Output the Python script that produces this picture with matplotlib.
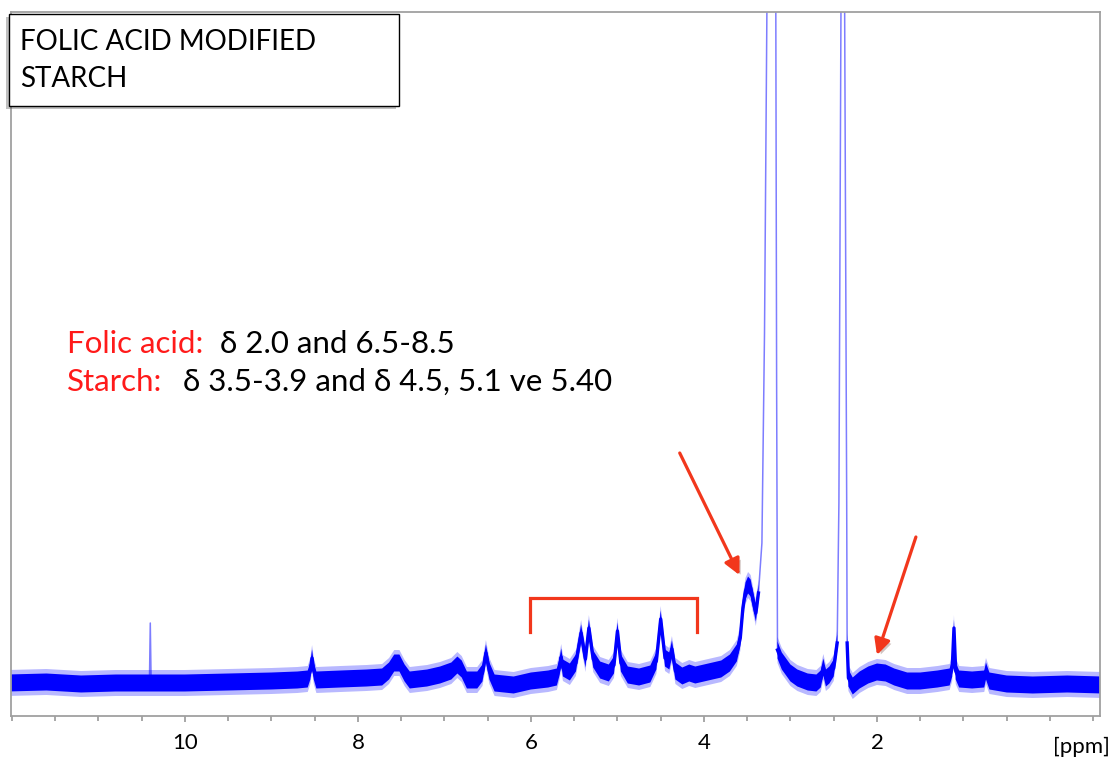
# -*- coding: utf-8 -*-
"""1H NMR spectrum of folic acid modified starch."""

import numpy as np
import matplotlib
matplotlib.use("Agg")
import matplotlib.pyplot as plt
import matplotlib.patheffects as pe
from matplotlib.patches import Rectangle
from matplotlib.ticker import FixedLocator, MultipleLocator

plt.rcParams['font.family'] = ['Lato', 'DejaVu Sans']

# ─── Spectrum trace (ppm, intensity a.u.) ───
ppm = [12.05, 11.60, 11.20, 10.80, 10.45, 10.41, 10.40, 10.39, 10.00, 9.50,
       9.00, 8.70, 8.58, 8.55, 8.53, 8.51, 8.48, 8.20, 7.90, 7.72,
       7.64, 7.58, 7.52, 7.46, 7.40, 7.20, 7.05, 6.92, 6.85, 6.80,
       6.74, 6.62, 6.56, 6.52, 6.48, 6.42, 6.20, 6.00, 5.80, 5.70,
       5.67, 5.65, 5.63, 5.55, 5.48, 5.42, 5.37, 5.33, 5.28, 5.20,
       5.10, 5.04, 5.00, 4.96, 4.88, 4.75, 4.62, 4.55, 4.50, 4.45,
       4.40, 4.37, 4.33, 4.25, 4.17, 4.10, 4.00, 3.80, 3.70, 3.62,
       3.58, 3.55, 3.52, 3.49, 3.46, 3.43, 3.40, 3.37, 3.33, 3.30,
       3.27, 3.17, 3.16, 3.15, 3.10, 3.05, 3.00, 2.92, 2.80, 2.70,
       2.65, 2.62, 2.59, 2.55, 2.50, 2.46, 2.44, 2.415, 2.375, 2.35,
       2.345, 2.33, 2.28, 2.20, 2.10, 2.00, 1.90, 1.80, 1.65, 1.50,
       1.30, 1.16, 1.13, 1.11, 1.09, 1.05, 0.90, 0.76, 0.74, 0.70,
       0.50, 0.20, -0.20, -0.60]
intensity = [0.0, 0.1, -0.1, 0.0, 0.0, 0.0, 6.0, 0.0, 0.0, 0.1,
             0.2, 0.3, 0.4, 1.2, 2.5, 1.2, 0.3, 0.4, 0.5, 0.6,
             1.2, 2.0, 2.0, 1.0, 0.3, 0.5, 0.8, 1.2, 1.8, 1.4,
             0.3, 0.3, 1.0, 3.0, 1.2, 0.0, -0.2, 0.2, 0.4, 0.6,
             1.6, 2.6, 1.5, 1.1, 2.0, 5.0, 2.4, 5.5, 2.4, 1.3,
             1.0, 1.8, 5.2, 2.0, 0.8, 0.6, 0.9, 2.2, 6.4, 2.5,
             2.2, 3.4, 1.2, 0.7, 1.0, 0.8, 1.0, 1.4, 2.0, 3.0,
             4.5, 7.5, 9.2, 9.8, 9.5, 8.2, 7.0, 9.0, 14.0, 35.0,
             70.0, 70.0, 30.0, 3.3, 2.2, 1.6, 1.0, 0.5, 0.1, 0.0,
             0.4, 1.6, 0.5, 0.8, 1.5, 4.0, 18.0, 70.0, 70.0, 18.0,
             4.0, 0.5, -0.3, 0.3, 0.8, 1.1, 1.0, 0.6, 0.2, 0.2,
             0.4, 0.6, 1.5, 5.5, 1.2, 0.4, 0.3, 0.4, 1.2, 0.2,
             -0.1, -0.2, -0.1, -0.2]
thin_spikes = [10.40]   # single-point spikes drawn only as a thin line

major_ticks = [10, 8, 6, 4, 2]
title_lines = ["FOLIC ACID MODIFIED", "STARCH"]
folic_label, folic_text = "Folic acid:", "δ 2.0 and 6.5-8.5"
starch_label, starch_text = "Starch:", "δ 3.5-3.9 and δ 4.5, 5.1 ve 5.40"
starch_bracket = (6.01, 4.08)          # ppm range marked by the bracket
arrows = [((4.28, 23.0), (3.59, 10.8)),  # (tail, head) in ppm / a.u.
          ((1.55, 14.6), (2.00, 2.8))]

W, H = 1113, 759
BLUE = '#0000ff'
RED = '#f2371c'


def px(x, y):
    """Pixel position (from top-left) to figure fraction."""
    return x / W, 1 - y / H


fig = plt.figure(figsize=(W / 100, H / 100), dpi=100)
ax = fig.add_axes([11 / W, 1 - 716 / H, (1100 - 11) / W, (716 - 12) / H])
ax.set_xlim(12.01, -0.578)
ax.set_ylim(-3.3, 67.1)

x = np.array(ppm)
y = np.array(intensity)

# noise band + thick trace only in the low part; tall peaks stay thin and pale
low = y.copy()
low[y > 12] = np.nan
for i in np.flatnonzero(np.isin(x, thin_spikes)):
    low[i] = 0.5 * (y[i - 1] + y[i + 1])
ax.plot(x, y, color='#7d7dff', lw=1.1, zorder=0.5)
ax.fill_between(x, low - 1.3, low + 1.3, color=BLUE, alpha=0.28, lw=0)
ax.fill_between(x, low - 0.85, low + 0.85, color=BLUE, lw=0)
ax.plot(x, low, color=BLUE, lw=2.4)

# starch bracket
x0, x1 = starch_bracket
ax.plot([x0, x0, x1, x1], [5.1, 8.5, 8.5, 5.1], color=RED, lw=2.3,
        solid_joinstyle='miter')

for tail, head in arrows:
    ax.annotate('', xy=head, xytext=tail,
                arrowprops=dict(arrowstyle='-|>', color=RED, lw=2.3,
                                mutation_scale=24, shrinkA=0, shrinkB=0,
                                path_effects=[pe.SimplePatchShadow(offset=(2, -2), alpha=0.25),
                                              pe.Normal()]))

# ─── Axes styling ───
for side in ('left', 'right', 'top', 'bottom'):
    ax.spines[side].set_color('#a0a0a0')
    ax.spines[side].set_linewidth(1.3)
ax.set_yticks([])
ax.xaxis.set_major_locator(FixedLocator(major_ticks))
ax.xaxis.set_minor_locator(MultipleLocator(0.5))
ax.tick_params(axis='x', which='major', direction='out', length=4.5, width=1.1,
               color='#909090', labelsize=16, pad=8)
ax.tick_params(axis='x', which='minor', direction='out', length=3.5, width=1.1,
               color='#909090')
fig.text(*px(1110, 753), "[ppm]", ha='right', va='baseline', fontsize=16)

# ─── Title box ───
box = Rectangle(px(9, 106), 390 / W, 92 / H, transform=fig.transFigure,
                facecolor='white', edgecolor='black', lw=1.0, zorder=5,
                path_effects=[pe.SimplePatchShadow(offset=(-2, -2), alpha=0.35),
                              pe.Normal()])
fig.patches.append(box)
for line, base in zip(title_lines, (50, 87)):
    fig.text(*px(20, base), line, fontsize=20, va='baseline', ha='left', zorder=6)

# ─── Assignment notes ───
fig.text(*px(67, 353), folic_label, color='#ff1a1a', fontsize=22.5, va='baseline')
fig.text(*px(220, 353), folic_text, color='black', fontsize=22.5, va='baseline')
fig.text(*px(67, 391), starch_label, color='#ff1a1a', fontsize=22.5, va='baseline')
fig.text(*px(183, 391), starch_text, color='black', fontsize=22.5, va='baseline')

fig.savefig('out.png', dpi=100)
